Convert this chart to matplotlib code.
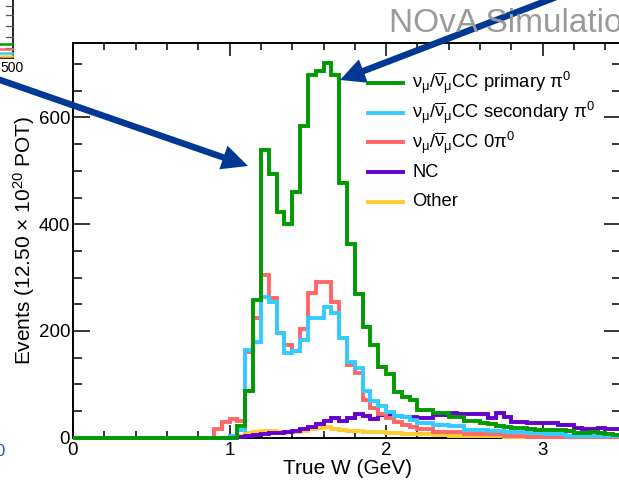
import numpy as np
import matplotlib
matplotlib.use("Agg")
import matplotlib.pyplot as plt
from matplotlib.ticker import MultipleLocator
from matplotlib.patches import FancyArrow
from matplotlib.lines import Line2D

plt.rcParams['font.family'] = ['Liberation Sans', 'DejaVu Sans']
plt.rcParams['mathtext.fontset'] = 'custom'
plt.rcParams['mathtext.rm'] = 'Liberation Sans'
plt.rcParams['mathtext.it'] = 'Liberation Sans'
plt.rcParams['mathtext.bf'] = 'Liberation Sans:bold'

# ---------------- data ----------------
w_min, w_max, bin_width = 0.0, 3.5, 0.05
zeros18 = [0] * 18  # 0.00 - 0.90 GeV

# bins from 0.90 to 3.50 GeV (52 bins)
cc_primary = zeros18 + [
    0, 0, 0, 21, 88, 258, 539, 494, 422, 400,
    460, 584, 680, 687, 703, 680, 477, 363, 269, 208,
    174, 133, 120, 86, 77, 70, 52, 52, 46, 46,
    38, 38, 31, 31, 28, 25, 22, 20, 18, 18,
    16, 15, 14, 14, 14, 12, 9, 9, 10, 8,
    7, 5]
cc_secondary = zeros18 + [
    0, 0, 3, 15, 164, 180, 264, 255, 196, 159,
    163, 184, 224, 224, 244, 233, 186, 142, 130, 88,
    69, 60, 49, 41, 38, 34, 28, 28, 24, 24,
    21, 21, 15, 14, 14, 13, 12, 11, 10, 10,
    8, 8, 7, 7, 6, 4, 4, 3, 3, 3,
    3, 3]
cc_0pi0 = zeros18 + [
    17, 29, 35, 31, 160, 224, 305, 261, 196, 174,
    163, 203, 272, 291, 291, 255, 186, 136, 121, 71,
    55, 44, 37, 30, 24, 20, 16, 16, 11, 11,
    11, 11, 7, 7, 7, 7, 6, 3, 3, 3,
    2, 2, 2, 1, 1, 1, 1, 1, 1, 1,
    1, 1]
nc = zeros18 + [
    0, 0, 1, 2, 3, 5, 7, 8, 9, 10,
    13, 16, 20, 25, 31, 36, 32, 36, 44, 41,
    35, 43, 43, 40, 38, 38, 36, 36, 43, 43,
    46, 44, 44, 44, 44, 36, 47, 38, 30, 30,
    27, 27, 27, 27, 24, 24, 18, 17, 16, 19,
    16, 16]
other = zeros18 + [
    0, 0, 1, 4, 8, 11, 13, 12, 11, 11,
    11, 13, 16, 19, 20, 17, 14, 13, 12, 11,
    10, 10, 9, 8, 7, 7, 6, 6, 5, 5,
    4, 4, 4, 3, 3, 3, 3, 2, 2, 2,
    2, 2, 2, 2, 2, 2, 2, 2, 1, 1,
    1, 1]

series_labels = [r"$\nu_{\mu}/\overline{\nu}_{\mu}$CC primary $\pi^{0}$",
                 r"$\nu_{\mu}/\overline{\nu}_{\mu}$CC secondary $\pi^{0}$",
                 r"$\nu_{\mu}/\overline{\nu}_{\mu}$CC 0$\pi^{0}$",
                 "NC", "Other"]
series_values = [cc_primary, cc_secondary, cc_0pi0, nc, other]
series_colors = ["#009a00", "#33ccff", "#ff6666", "#6600cc", "#ffcc33"]

x_label = "True W (GeV)"
y_label = r"Events (12.50 $\times$ 10$^{20}$ POT)"
watermark = "NOvA Simulation"

edges = np.arange(w_min, w_max + bin_width / 2, bin_width)

# ---------------- figure ----------------
W_PX, H_PX = 619, 483
fig = plt.figure(figsize=(W_PX / 100, H_PX / 100), dpi=100)

ax_l, ax_r, ax_t, ax_b = 73, 621, 43.3, 437.7
ax = fig.add_axes([ax_l / W_PX, (H_PX - ax_b) / H_PX,
                   (ax_r - ax_l) / W_PX, (ax_b - ax_t) / H_PX])

lw = 2.8
for vals, col, z in zip(series_values[::-1], series_colors[::-1], [3, 3.1, 3.2, 3.3, 3.4]):
    ax.stairs(vals, edges, color=col, linewidth=lw, zorder=z, clip_on=False,
              baseline=0)

ax.set_xlim(w_min, w_max)
ax.set_ylim(0, 739)
ax.xaxis.set_major_locator(MultipleLocator(1))
ax.xaxis.set_minor_locator(MultipleLocator(0.2))
ax.yaxis.set_major_locator(MultipleLocator(200))
ax.yaxis.set_minor_locator(MultipleLocator(50))
ax.tick_params(axis='both', which='both', direction='in', top=True, right=True,
               width=1.1, labelsize=13.5)
ax.tick_params(axis='x', which='major', length=9.7, pad=3)
ax.tick_params(axis='x', which='minor', length=5)
ax.tick_params(axis='y', which='major', length=12.2, pad=2)
ax.tick_params(axis='y', which='minor', length=6.5)
for s in ax.spines.values():
    s.set_linewidth(1.4)

ax.set_xlabel(x_label, fontsize=15)
ax.xaxis.set_label_coords(0.5, -0.055)
ax.set_ylabel(y_label, fontsize=15)
ax.yaxis.set_label_coords(-0.066, 0.5)

# ---------------- overlay (legend, watermark, arrows, neighbours) ----------------
ov = fig.add_axes([0, 0, 1, 1], zorder=10)
ov.set_xlim(0, W_PX)
ov.set_ylim(H_PX, 0)
ov.axis('off')
ov.patch.set_alpha(0)

# legend
leg_x0, leg_x1, leg_tx = 368, 403, 412
leg_y0, leg_dy = 83, 29.7
for i, (lab, col) in enumerate(zip(series_labels, series_colors)):
    yy = leg_y0 + i * leg_dy
    ov.add_line(Line2D([leg_x0, leg_x1], [yy, yy], color=col, linewidth=lw))
    ov.text(leg_tx, yy, lab, fontsize=13.2, va='center', ha='left')

# watermark
ov.text(389, 32, watermark, fontsize=24, color='#9a9a9a', ha='left', va='baseline')

# arrows
arrow_col = '#003893'
ov.add_patch(FancyArrow(-20, 73, 268, 93, width=6.5, head_width=25, head_length=26,
                        length_includes_head=True, color=arrow_col, lw=0))
ov.add_patch(FancyArrow(585, -14, -245, 94, width=6.5, head_width=25, head_length=25,
                        length_includes_head=True, color=arrow_col, lw=0))

# neighbouring panel remnant (top-left)
ov.add_line(Line2D([12.7, 12.7], [-2, 58], color='black', lw=1.2))
ov.add_line(Line2D([-2, 12.7], [58, 58], color='black', lw=1.2))
for ty in [6, 15, 26, 37, 48]:
    ov.add_line(Line2D([6, 12.7], [ty, ty], color='#555555', lw=0.9))
for cy, cc in zip([44, 49, 53, 56], ["#009a00", "#ff6666", "#33ccff", "#ffcc33"]):
    ov.add_line(Line2D([0, 12], [cy, cy], color=cc, lw=1.8))
ov.text(0, 68, "500", fontsize=10, ha='left', va='center')
ov.text(0, 452, "0", fontsize=12, color='#2255aa', ha='center', va='center')

fig.savefig("out.png", dpi=100)
